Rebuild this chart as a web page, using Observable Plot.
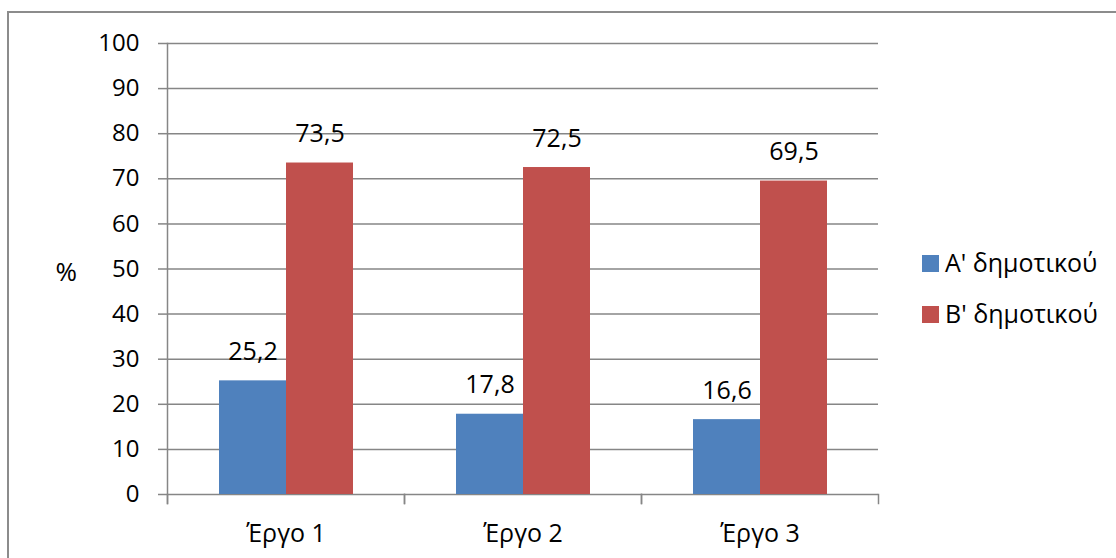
<!DOCTYPE html>
<html>
<head>
<meta charset="utf-8">
<script src="https://cdn.jsdelivr.net/npm/d3@7"></script>
<script src="https://cdn.jsdelivr.net/npm/@observablehq/plot@0.6"></script>
<style>
  html, body { margin: 0; padding: 0; background: #fff; overflow: hidden; }
  #wrap { position: relative; width: 1116px; height: 558px; overflow: hidden; font-family: "Open Sans", sans-serif; }
  #border { position: absolute; left: 7px; top: 11px; width: 1200px; height: 700px; border: 2px solid #8c8c8c; box-sizing: border-box; }
  #chart { position: absolute; left: 0; top: 0; }
  .lg-item { position: absolute; font-size: 25px; line-height: 25px; color: #000; white-space: nowrap; }
  .lg-sw { position: absolute; width: 17px; height: 17px; }
</style>
</head>
<body>
<div id="wrap">
  <div id="border"></div>
  <div id="chart"></div>
  <div id="legend"></div>
</div>
<script>
const categories = ["Έργο 1", "Έργο 2", "Έργο 3"];
const seriesNames = ["A' δημοτικού", "B' δημοτικού"];
const gradeA = [25.2, 17.8, 16.6];
const gradeB = [73.5, 72.5, 69.5];
const yTicks = [0, 10, 20, 30, 40, 50, 60, 70, 80, 90, 100];
const seriesColors = ["#4F81BD", "#C0504D"];
const yLabel = "%";

const data = [];
categories.forEach((c, i) => {
  data.push({category: c, series: seriesNames[0], value: gradeA[i]});
  data.push({category: c, series: seriesNames[1], value: gradeB[i]});
});
const fmt = v => v.toFixed(1).replace(".", ",");
const grid = "#868686";

const chart = Plot.plot({
  width: 1116,
  height: 558,
  marginLeft: 166,
  marginRight: 237,
  marginTop: 43,
  marginBottom: 64,
  style: {fontFamily: "Open Sans, sans-serif", fontSize: "24px", color: "#000", background: "transparent", overflow: "visible"},
  fx: {domain: categories, paddingInner: 0, paddingOuter: 0, label: null},
  x: {domain: seriesNames, paddingInner: 0, paddingOuter: 0.75, axis: null},
  y: {domain: [0, 100], label: null},
  color: {domain: seriesNames, range: seriesColors},
  marks: [
    Plot.gridY(yTicks, {stroke: grid, strokeOpacity: 1, strokeWidth: 1.5}),
    Plot.barY(data, {fx: "category", x: "series", y: "value", fill: "series"}),
    Plot.text(data, {fx: "category", x: "series", y: "value", text: d => fmt(d.value), dy: -29, fontSize: 25, fill: "#000"}),
    Plot.axisY(yTicks, {tickSize: 9, tickPadding: 19, stroke: grid, strokeWidth: 1.5, fontSize: 24, label: null, tickFormat: d => String(d)}),
    Plot.frame({anchor: "left", insetBottom: -9, stroke: grid, strokeWidth: 1.5, facetAnchor: "left"}),
    Plot.frame({anchor: "left", insetTop: 451, insetBottom: -9, stroke: grid, strokeWidth: 1.5}),
    Plot.frame({anchor: "right", insetTop: 451, insetBottom: -9, stroke: grid, strokeWidth: 1.5}),
    Plot.axisFx({anchor: "bottom", tickSize: 0, tickPadding: 30, fontSize: 25, label: null}),
    Plot.text([50], {y: d => d, text: () => yLabel, frameAnchor: "left", dx: -112, dy: 4, fontSize: 26, fill: "#000", facetAnchor: "left"})
  ]
});
document.getElementById("chart").appendChild(chart);

const legend = document.getElementById("legend");
const rowTops = [250, 301];
seriesNames.forEach((name, i) => {
  const sw = document.createElement("div");
  sw.className = "lg-sw";
  sw.style.left = "922px";
  sw.style.top = (rowTops[i] + 5) + "px";
  sw.style.background = seriesColors[i];
  legend.appendChild(sw);
  const t = document.createElement("div");
  t.className = "lg-item";
  t.style.left = "945px";
  t.style.top = rowTops[i] + "px";
  t.textContent = name;
  legend.appendChild(t);
});
</script>
</body>
</html>
